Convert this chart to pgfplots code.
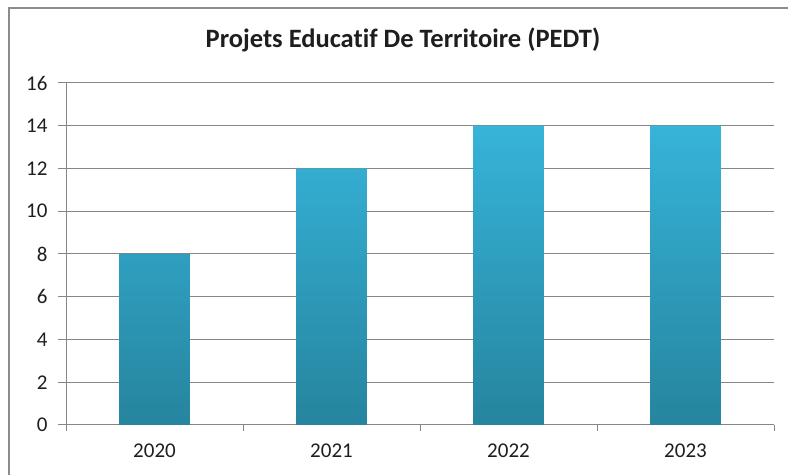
\documentclass[border=0pt]{standalone}
\usepackage{pgfplots}
\pgfplotsset{compat=1.18}
\usepackage{fontspec}
\setmainfont{Carlito}[Ligatures=NoCommon]
\definecolor{bartop}{RGB}{54,180,217}
\definecolor{barbot}{RGB}{38,132,158}
\definecolor{gridc}{RGB}{134,134,134}
\definecolor{framec}{RGB}{140,140,140}
\definecolor{txt}{RGB}{30,30,30}
\begin{document}
\begin{tikzpicture}[x=1bp,y=1bp]
\useasboundingbox (0,0) rectangle (788,475);
\draw[framec, line width=1.4bp] (9,0) -- (9,467) -- (790,467);
\node[font=\bfseries\fontsize{26.5bp}{30bp}\selectfont, text=txt, anchor=base] at (403,427) {Projets Educatif De Territoire (PEDT)};
\begin{axis}[
  at={(66bp,50bp)}, anchor=south west,
  scale only axis, width=708bp, height=342bp,
  xmin=0, xmax=4, ymin=0, ymax=16,
  ytick={0,2,...,16},
  xtick={0.5,1.5,2.5,3.5},
  xticklabels={2020,2021,2022,2023},
  minor xtick={0,1,2,3,4},
  axis x line*=bottom, axis y line*=left,
  axis line style={gridc, line width=1bp, -},
  ymajorgrids, grid style={gridc, line width=1bp},
  tick align=outside,
  major tick length=8bp, minor tick length=6bp,
  y tick style={gridc, line width=1bp},
  x tick style={draw=none},
  minor x tick style={draw=gridc, line width=1bp},
  ticklabel style={font=\fontsize{21bp}{24bp}\selectfont, text=txt},
  /pgf/number format/assume math mode=true,
  yticklabel style={xshift=-7bp},
  xticklabel style={yshift=-7bp},
  ]
\addplot[ybar, bar width=0.4, draw=none, top color=bartop, bottom color=barbot]
  coordinates {(0.5,8) (1.5,12) (2.5,14) (3.5,14)};
\end{axis}
\end{tikzpicture}
\end{document}
